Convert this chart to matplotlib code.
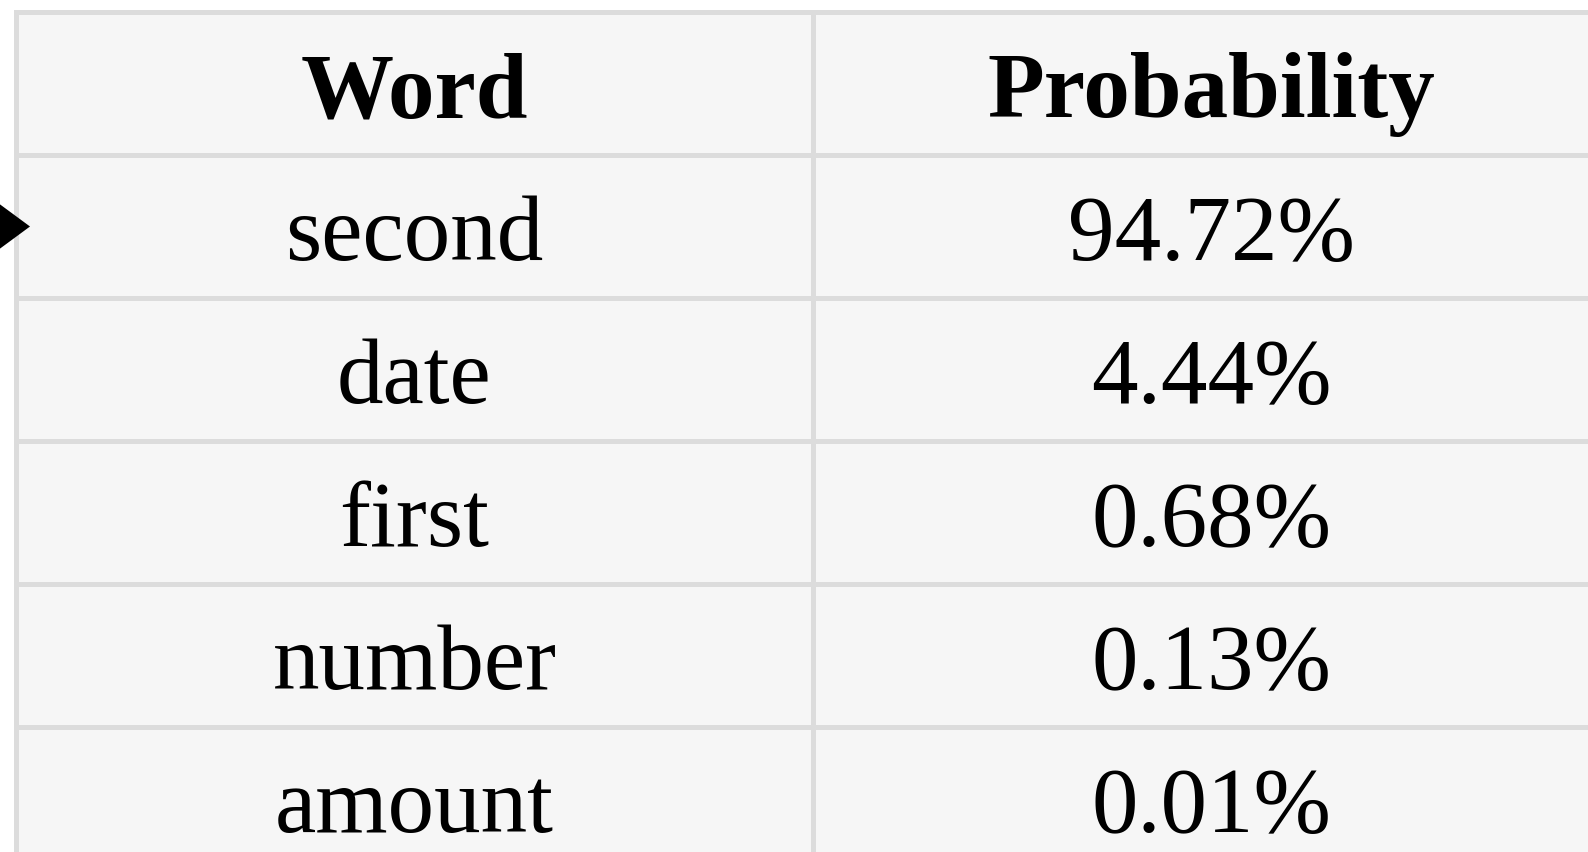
import matplotlib.pyplot as plt
from matplotlib.patches import Rectangle, Polygon

headers = ['Word', 'Probability']
words = ['second', 'date', 'first', 'number', 'amount']
probs = [94.72, 4.44, 0.68, 0.13, 0.01]

W, H = 1588, 853
left, top = 16, 13
col_w = 797
row_h = 143
line_col = '#dcdcdc'
cell_col = '#f6f6f6'
font = 'Liberation Serif'

fig = plt.figure(figsize=(W / 100, H / 100), dpi=100)
ax = fig.add_axes([0, 0, 1, 1])
ax.set_xlim(0, W)
ax.set_ylim(H, 0)
ax.axis('off')

rows = [headers] + [[w, f'{p:.2f}%'] for w, p in zip(words, probs)]

for i, row in enumerate(rows):
    y0 = top + i * row_h
    for j, txt in enumerate(row):
        x0 = left + j * col_w
        ax.add_patch(Rectangle((x0, y0), col_w, row_h, facecolor=cell_col,
                               edgecolor=line_col, linewidth=3.6))
        ax.text(x0 + col_w / 2, y0 + 104, txt, ha='center', va='baseline',
                fontsize=67, family=font,
                fontweight='bold' if i == 0 else 'normal', color='black')

# pointer at the selected row
ay = top + row_h + row_h / 2
ax.add_patch(Polygon([(-8, ay - 28), (30, ay), (-8, ay + 28)], closed=True,
                     facecolor='black', edgecolor='none'))

fig.savefig('out.png', dpi=100)
